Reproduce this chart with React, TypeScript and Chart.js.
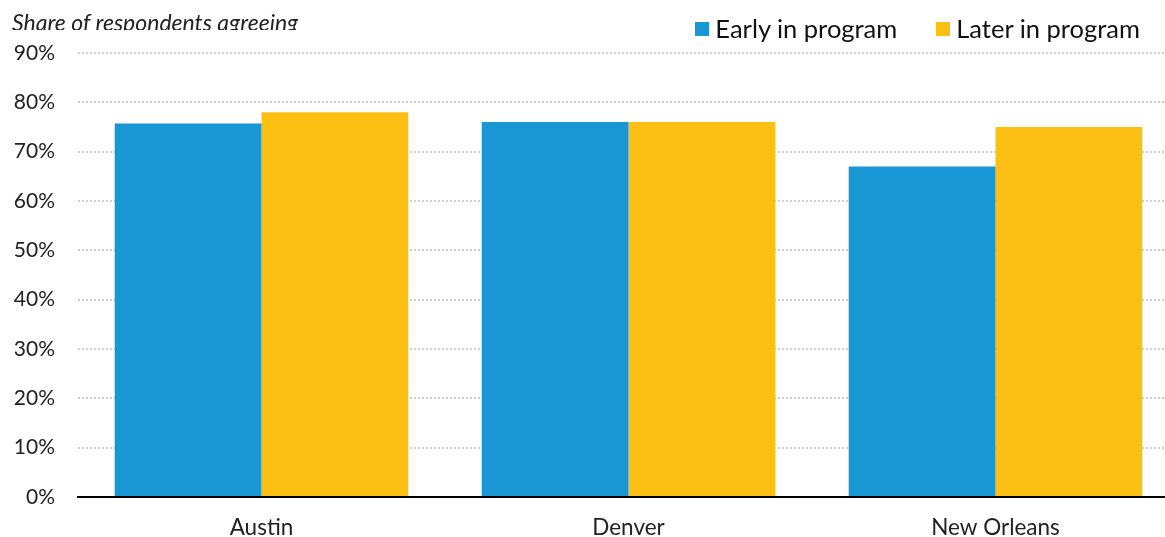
import React, { useEffect, useRef } from "react";
import { Chart, registerables } from "chart.js";

Chart.register(...registerables);

const categories = ["Austin", "Denver", "New Orleans"];
const earlyValues = [75.7, 76, 67];
const laterValues = [78, 76, 75];
const seriesNames = ["Early in program", "Later in program"];
const seriesColors = ["#1897d4", "#fcc015"];
const titleText = "Share of respondents agreeing";

export default function App() {
  const ref = useRef<HTMLCanvasElement | null>(null);

  useEffect(() => {
    if (!ref.current) return;
    const chart = new Chart(ref.current, {
      type: "bar",
      data: {
        labels: categories,
        datasets: [
          {
            label: seriesNames[0],
            data: earlyValues,
            backgroundColor: seriesColors[0],
            categoryPercentage: 0.8,
            barPercentage: 1.0,
            borderWidth: 0,
          },
          {
            label: seriesNames[1],
            data: laterValues,
            backgroundColor: seriesColors[1],
            categoryPercentage: 0.8,
            barPercentage: 1.0,
            borderWidth: 0,
          },
        ],
      },
      options: {
        animation: false,
        responsive: false,
        maintainAspectRatio: false,
        layout: { padding: { top: 53, left: 0, right: 0, bottom: 0 } },
        plugins: {
          legend: { display: false },
          title: { display: false },
          tooltip: { enabled: false },
        },
        scales: {
          x: {
            grid: { display: false, drawTicks: false },
            border: { display: true, color: "#000", width: 2 },
            ticks: {
              color: "#222",
              font: { family: "Lato", size: 22.5 },
              padding: 17,
            },
            afterFit: (scale: any) => {
              scale.height = 40;
            },
          },
          y: {
            min: 0,
            max: 90,
            grid: {
              color: "#cfcfcf",
              lineWidth: 2,
              drawTicks: false,
            },
            border: { display: false, dash: [2, 2] },
            ticks: {
              stepSize: 10,
              color: "#222",
              font: { family: "Lato", size: 21 },
              padding: 23,
              callback: (v: any) => v + "%",
            },
            afterFit: (scale: any) => {
              scale.width = 78;
            },
          },
        },
      },
    });
    return () => chart.destroy();
  }, []);

  return (
    <div
      style={{
        position: "absolute",
        left: 0,
        top: 0,
        width: 1165,
        height: 537,
        overflow: "hidden",
        background: "#fff",
      }}
    >
      <canvas
        ref={ref}
        width={1179}
        height={537}
        style={{ position: "absolute", left: 0, top: 0, width: 1179, height: 537 }}
      />
      <div
        style={{
          position: "absolute",
          left: 12,
          top: 0,
          height: 30,
          overflow: "hidden",
          paddingTop: 9,
          boxSizing: "border-box",
          fontFamily: "Lato",
          fontStyle: "italic",
          fontSize: 23,
          lineHeight: "27.6px",
          color: "#222",
          whiteSpace: "nowrap",
        }}
      >
        {titleText}
      </div>
      <div
        style={{
          position: "absolute",
          right: 25,
          top: 13,
          display: "flex",
          alignItems: "center",
          fontFamily: "Lato",
          fontSize: 25.5,
          lineHeight: "30px",
          color: "#111",
          whiteSpace: "nowrap",
        }}
      >
        {seriesNames.map((n, i) => (
          <div
            key={n}
            style={{ display: "flex", alignItems: "center", marginLeft: i === 0 ? 0 : 39 }}
          >
            <span
              style={{
                display: "inline-block",
                width: 14,
                height: 14,
                background: seriesColors[i],
                marginRight: 6,
                position: "relative",
                top: 1,
              }}
            />
            <span>{n}</span>
          </div>
        ))}
      </div>
    </div>
  );
}
